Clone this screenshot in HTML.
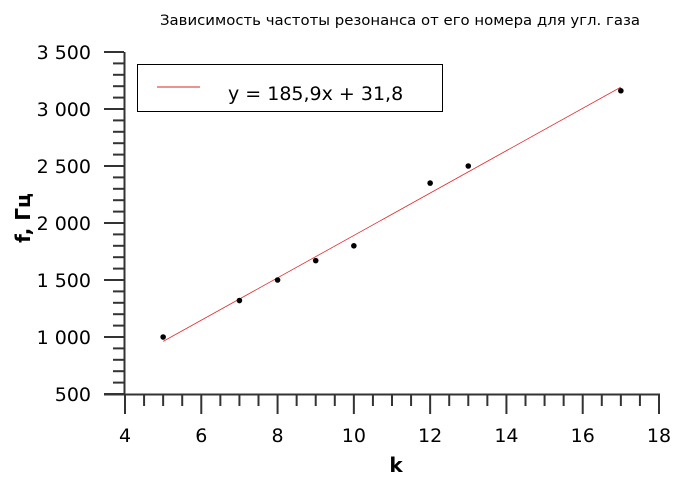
<!DOCTYPE html>
<html><head><meta charset="utf-8"><style>
body{margin:0;background:#fff;}
svg{display:block;font-family:"DejaVu Sans","Liberation Sans",sans-serif;}
</style></head><body>
<svg id="chart" width="694" height="482" viewBox="0 0 694 482">
<text x="160" y="25" font-size="14" textLength="480" lengthAdjust="spacingAndGlyphs" fill="#000">Зависимость частоты резонанса от его номера для угл. газа</text>
<g id="axes"></g>
<g id="marks"></g>
<rect x="137.5" y="64.5" width="305" height="47" fill="#fff" stroke="#000" stroke-width="1"/>
<line x1="157" y1="87" x2="200" y2="87" stroke="#e02020" stroke-width="1"/>
<text x="228" y="100" font-size="19" fill="#000">y = 185,9x + 31,8</text>
<text x="396" y="472" text-anchor="middle" font-size="20" font-weight="bold">k</text>
<text transform="translate(30,218) rotate(-90)" text-anchor="middle" font-size="20" font-weight="bold">f, Гц</text>
</svg>
<script>
const xTicks=[4,6,8,10,12,14,16,18];
const yTicks=[500,1000,1500,2000,2500,3000,3500];
const yTickLabels=["500","1 000","1 500","2 000","2 500","3 000","3 500"];
const kValues=[5,7,8,9,10,12,13,17];
const fValues=[1000,1320,1500,1670,1800,2350,2500,3160];
const slope=185.9, intercept=31.8;
const fitRange=[5,17];

const NS="http://www.w3.org/2000/svg";
const X=v=>125+(v-4)*(534/14);
const Y=v=>394-(v-500)*(342/3000);
function mk(tag,attrs,parent){const e=document.createElementNS(NS,tag);for(const k in attrs)e.setAttribute(k,attrs[k]);parent.appendChild(e);return e;}
const ax=document.getElementById('axes'), mg=document.getElementById('marks');
let l=mk('line',{x1:124.5,y1:Y(3500),x2:124.5,y2:394.5,stroke:'#333','stroke-width':2},ax);


l=mk('line',{x1:104,y1:394.5,x2:X(18)+1,y2:394.5,stroke:'#333','stroke-width':2},ax);


for(let v=500;v<=3500;v+=100){
  const major=v%500===0;
  const t=mk('line',{x1:major?104:113,x2:124,y1:Y(v),y2:Y(v),stroke:'#333','stroke-width':2},ax);
  
  
}
yTicks.forEach((v,i)=>{
  const t=mk('text',{x:91,y:Y(v)+7,'text-anchor':'end','font-size':19},ax);
  t.textContent=yTickLabels[i];
  
  
});
for(let v=4;v<=18;v+=0.5){
  const major=v%2===0;
  const t=mk('line',{x1:X(v),x2:X(v),y1:394,y2:major?414:406,stroke:'#333','stroke-width':2},ax);
  
  
}
xTicks.forEach(v=>{
  const t=mk('text',{x:X(v),y:442,'text-anchor':'middle','font-size':19},ax);
  t.textContent=String(v);
  
  
});
const fit=mk('line',{x1:X(fitRange[0]),y1:Y(slope*fitRange[0]+intercept),x2:X(fitRange[1]),y2:Y(slope*fitRange[1]+intercept),stroke:'#e03030','stroke-width':0.8},mg);


kValues.forEach((k,i)=>{
  const c=mk('circle',{cx:X(k),cy:Y(fValues[i]),r:2.8,fill:'#000'},mg);
  
  
});
</script>
</body></html>
